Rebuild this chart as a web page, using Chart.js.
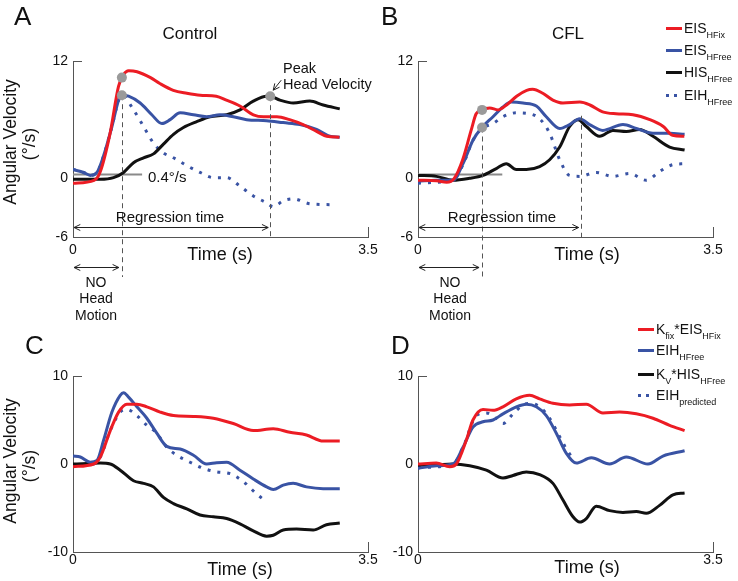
<!DOCTYPE html>
<html><head><meta charset="utf-8">
<script src="https://cdn.jsdelivr.net/npm/chart.js@4.4.1/dist/chart.umd.min.js"></script>
<style>
html,body{margin:0;padding:0;background:#fff}
#wrap{position:relative;width:738px;height:581px;overflow:hidden;font-family:'Liberation Sans',Arial,Helvetica,sans-serif;color:#111}
canvas{position:absolute;left:0;top:0}
.t{position:absolute;white-space:nowrap;line-height:1}
.c{transform:translate(-50%,-50%)}
.rot{transform:translate(-50%,-50%) rotate(-90deg);text-align:center}
.lg{position:absolute;display:flex;align-items:center;height:20px;white-space:nowrap;font-size:14px;line-height:1}
.lg i{display:inline-block;width:16px;height:3px;margin-right:2px;flex:none}
.lg span{display:inline-block;line-height:1}
.lg sub{font-size:9px;vertical-align:-5px;line-height:0}
</style></head>
<body><div id="wrap">
<canvas id="cA" width="738" height="581"></canvas>
<canvas id="cB" width="738" height="581"></canvas>
<canvas id="cC" width="738" height="581"></canvas>
<canvas id="cD" width="738" height="581"></canvas>

<div class="t" style="left:14px;top:3px;font-size:26px">A</div>
<div class="t" style="left:381px;top:3px;font-size:26px">B</div>
<div class="t" style="left:25px;top:332px;font-size:26px">C</div>
<div class="t" style="left:391px;top:332px;font-size:26px">D</div>

<div class="t c" style="left:190px;top:33px;font-size:17px">Control</div>
<div class="t c" style="left:568px;top:33px;font-size:17px">CFL</div>

<div class="t rot" style="left:11px;top:142px;font-size:17.5px">Angular Velocity</div>
<div class="t rot" style="left:30px;top:144px;font-size:17.5px">(°/s)</div>
<div class="t rot" style="left:11px;top:461px;font-size:17.5px">Angular Velocity</div>
<div class="t rot" style="left:30px;top:466px;font-size:17.5px">(°/s)</div>

<div class="t c" style="left:220px;top:254px;font-size:18px">Time (s)</div>
<div class="t c" style="left:587px;top:254px;font-size:18px">Time (s)</div>
<div class="t c" style="left:240px;top:569px;font-size:18px">Time (s)</div>
<div class="t c" style="left:587px;top:567px;font-size:18px">Time (s)</div>

<div class="t" style="left:148px;top:169px;font-size:15px">0.4°/s</div>
<div class="t c" style="left:170px;top:216px;font-size:15px">Regression time</div>
<div class="t c" style="left:502px;top:216px;font-size:15px">Regression time</div>
<div class="t" style="left:283px;top:61px;font-size:14.5px">Peak</div>
<div class="t" style="left:283px;top:77px;font-size:14.5px">Head Velocity</div>

<div class="t c" style="left:96px;top:282px;font-size:14px">NO</div>
<div class="t c" style="left:96px;top:298px;font-size:14px">Head</div>
<div class="t c" style="left:96px;top:315px;font-size:14px">Motion</div>
<div class="t c" style="left:450px;top:282px;font-size:14px">NO</div>
<div class="t c" style="left:450px;top:298px;font-size:14px">Head</div>
<div class="t c" style="left:450px;top:315px;font-size:14px">Motion</div>

<div class="lg" style="left:666px;top:18px"><i style="background:#ec1c24"></i><span>EIS<sub>HFix</sub></span></div>
<div class="lg" style="left:666px;top:40px"><i style="background:#3953a4"></i><span>EIS<sub>HFree</sub></span></div>
<div class="lg" style="left:666px;top:62px"><i style="background:#111"></i><span>HIS<sub>HFree</sub></span></div>
<div class="lg" style="left:666px;top:85px"><i style="background:linear-gradient(90deg,#3953a4 0 3px,transparent 3px 8px,#3953a4 8px 11px,transparent 11px)"></i><span>EIH<sub>HFree</sub></span></div>

<div class="lg" style="left:638px;top:319px"><i style="background:#ec1c24"></i><span>K<sub>fix</sub>*EIS<sub>HFix</sub></span></div>
<div class="lg" style="left:638px;top:340px"><i style="background:#3953a4"></i><span>EIH<sub>HFree</sub></span></div>
<div class="lg" style="left:638px;top:364px"><i style="background:#111"></i><span>K<sub>V</sub>*HIS<sub>HFree</sub></span></div>
<div class="lg" style="left:638px;top:385px"><i style="background:linear-gradient(90deg,#3953a4 0 3px,transparent 3px 8px,#3953a4 8px 11px,transparent 11px)"></i><span>EIH<sub>predicted</sub></span></div>
</div>
<script>
// ---------- Data ----------
const xTickVals = [0, 3.5];
const yTicksAB = [-6, 0, 12];
const yTicksCD = [-10, 0, 10];

// Panel A (Control)
const aRedT = [0,0.25,0.32,0.44,0.54,0.60,0.66,0.76,0.92,1.03,1.19,1.35,1.51,1.70,1.82,1.98,2.14,2.26,2.42,2.57,2.73,2.89,3.01,3.16];
const aRedV = [-0.5,-0.2,0.6,4.6,9.4,10.6,11.0,10.9,10.3,9.7,9.0,8.7,8.5,8.4,8.0,7.4,6.5,6.3,6.3,6.0,5.5,4.8,4.3,4.2];
const aBlueT = [0,0.126,0.205,0.284,0.363,0.462,0.541,0.58,0.659,0.797,0.935,1.054,1.152,1.271,1.429,1.587,1.744,1.902,2.06,2.297,2.494,2.692,2.889,3.047,3.165];
const aBlueV = [0.9,0.6,0.3,0.6,2.3,5.3,8.0,8.5,8.4,7.7,6.5,5.6,6.0,6.7,6.5,6.3,6.5,6.3,6.0,5.9,5.7,5.5,5.0,4.3,4.2];
const aBlackT = [0,0.324,0.481,0.6,0.718,0.837,0.955,1.073,1.192,1.31,1.468,1.626,1.823,1.981,2.139,2.297,2.336,2.455,2.613,2.81,2.968,3.165];
const aBlackV = [-0.1,-0.1,0.07,0.6,1.6,2.1,2.5,3.5,4.5,5.2,5.8,6.3,6.5,7.0,7.9,8.4,8.4,8.0,7.7,7.9,7.5,7.1];
const aDotT = [0,0.126,0.205,0.284,0.363,0.462,0.541,0.58,0.718,0.837,0.955,1.073,1.192,1.35,1.508,1.666,1.823,1.981,2.139,2.297,2.376,2.494,2.613,2.81,3.086];
const aDotV = [0.9,0.6,0.3,0.6,2.3,5.3,8.0,8.5,7.0,5.3,3.6,2.6,2.1,1.3,0.6,0.07,0.07,-0.8,-1.8,-2.5,-2.9,-2.3,-2.1,-2.6,-2.7];
const aMarkT = [0.58, 0.58, 2.34];
const aMarkV = [10.3, 8.5, 8.4];

// Panel B (CFL)
const bRedT = [0,0.22,0.34,0.43,0.53,0.63,0.69,0.76,0.85,0.95,1.05,1.17,1.29,1.36,1.48,1.60,1.72,1.92,2.04,2.19,2.35,2.55,2.75,2.91,3.02,3.16];
const bRedV = [-0.2,-0.25,-0.4,0,1.9,4.9,6.6,7.0,7.2,7.0,7.5,8.4,9.0,9.1,8.7,8.0,7.7,7.8,7.5,6.8,6.6,6.5,6.0,5.3,4.4,4.3];
const bBlueT = [0,0.217,0.415,0.534,0.652,0.759,0.89,1.008,1.107,1.246,1.404,1.522,1.681,1.799,1.918,2.036,2.194,2.432,2.59,2.788,2.985,3.163];
const bBlueV = [-0.3,-0.2,-0.2,1.5,3.9,5.2,6.3,7.3,7.8,7.7,7.4,6.3,5.1,5.5,6.1,5.5,4.9,5.5,5.1,4.6,4.6,4.5];
const bBlackT = [0,0.217,0.415,0.613,0.771,0.929,1.048,1.166,1.285,1.443,1.562,1.681,1.799,1.898,1.997,2.155,2.313,2.471,2.629,2.788,2.985,3.163];
const bBlackV = [0.3,0.2,-0.2,0,0.3,1.0,1.5,0.9,0.9,1.2,1.9,3.2,5.3,6.0,5.3,4.3,4.9,4.8,5.0,4.3,3.2,2.9];
const bDotT = [0,0.217,0.415,0.534,0.652,0.759,0.89,1.008,1.166,1.324,1.443,1.562,1.681,1.799,1.918,2.115,2.313,2.51,2.708,2.866,3.024,3.163];
const bDotV = [-0.5,-0.4,-0.2,1.4,3.9,5.1,5.6,6.3,6.7,6.6,6.1,4.6,1.9,0.3,0.2,0.6,0.2,0.5,-0.2,0.7,1.4,1.5];
const bMarkT = [0.76, 0.76];
const bMarkV = [7.0, 5.2];

// Panel C (Control, model)
const cRedT = [0,0.245,0.324,0.442,0.541,0.639,0.758,0.876,1.034,1.192,1.429,1.665,1.902,2.139,2.376,2.573,2.77,2.968,3.165];
const cRedV = [-0.3,0,0.8,3.8,5.9,6.8,6.8,6.5,5.9,5.5,5.4,5.2,4.6,3.8,4.0,3.6,3.3,2.6,2.6];
const cBlueT = [0,0.087,0.205,0.284,0.363,0.462,0.56,0.6,0.659,0.758,0.876,0.994,1.113,1.271,1.429,1.586,1.705,1.823,1.981,2.139,2.297,2.376,2.494,2.612,2.77,2.968,3.165];
const cBlueV = [0.9,0.8,0.2,0.4,2.7,5.9,7.8,8.1,7.6,6.5,5.2,3.5,2.0,1.7,1.0,0,0.15,0.2,-0.7,-1.7,-2.6,-2.9,-2.4,-2.2,-2.6,-2.8,-2.8];
const cBlackT = [0,0.324,0.442,0.56,0.718,0.837,0.955,1.073,1.192,1.35,1.507,1.665,1.823,1.981,2.139,2.297,2.376,2.494,2.652,2.849,3.007,3.165];
const cBlackV = [0,0.1,0,-0.7,-1.9,-2.2,-2.6,-3.8,-4.5,-5.1,-5.8,-6.0,-6.2,-6.8,-7.6,-8.2,-8.1,-7.5,-7.4,-7.5,-6.9,-6.7];
const cDotT = [0,0.245,0.324,0.442,0.56,0.639,0.758,0.876,0.994,1.113,1.231,1.389,1.547,1.705,1.863,2.021,2.178,2.297];
const cDotV = [-0.2,0,0.8,3.8,5.9,6.2,5.5,4.4,3.5,1.9,1.0,0.2,-0.5,-0.9,-1.1,-2.0,-3.4,-4.3];

// Panel D (CFL, model)
const dRedT = [0,0.217,0.376,0.455,0.573,0.652,0.771,0.89,1.008,1.166,1.325,1.443,1.601,1.799,1.997,2.194,2.392,2.59,2.788,2.985,3.163];
const dRedV = [0,0.1,-0.3,0,2.7,5.0,6.2,6.1,6.5,7.4,7.8,7.4,6.9,6.7,6.8,5.8,5.9,5.7,5.2,4.4,3.8];
const dBlueT = [0,0.217,0.415,0.534,0.652,0.771,0.89,1.008,1.166,1.285,1.404,1.522,1.641,1.76,1.878,2.056,2.273,2.471,2.728,2.906,3.163];
const dBlueV = [-0.5,-0.2,0,1.9,4.2,4.8,5.0,5.7,6.5,6.8,6.5,5.5,3.5,1.2,0.1,0.7,0,0.8,0,0.9,1.5];
const dBlackT = [0,0.217,0.415,0.613,0.811,1.008,1.127,1.285,1.443,1.601,1.72,1.839,1.918,1.997,2.115,2.273,2.432,2.59,2.708,2.866,3.025,3.163];
const dBlackV = [-0.15,-0.1,0,-0.2,-0.7,-1.6,-1.3,-0.9,-1.2,-2.2,-4.1,-6.0,-6.6,-6.2,-4.8,-5.3,-5.5,-5.4,-5.6,-4.7,-3.5,-3.3];
const dDotT = [0,0.415,0.534,0.692,0.811,0.929,1.008,1.127,1.246,1.325,1.443,1.562,1.681,1.76,1.839];
const dDotV = [-0.4,0,1.9,5.5,5.8,5.2,4.6,5.7,6.7,6.9,6.5,5.2,3.1,1.7,0.6];

// ---------- Drawing ----------
const RED = '#ec1c24', BLUE = '#3953a4', BLACK = '#111111';
const FONT = "'Liberation Sans', Arial, sans-serif";

function seg(ctx, x1, y1, x2, y2) { ctx.beginPath(); ctx.moveTo(x1, y1); ctx.lineTo(x2, y2); ctx.stroke(); }
function head(ctx, x, y, ang) {
  const L = 7, W = 0.45;
  ctx.beginPath();
  ctx.moveTo(x - L * Math.cos(ang - W), y - L * Math.sin(ang - W));
  ctx.lineTo(x, y);
  ctx.lineTo(x - L * Math.cos(ang + W), y - L * Math.sin(ang + W));
  ctx.stroke();
}
function dblArrow(ctx, x1, x2, y) {
  seg(ctx, x1, y, x2, y);
  head(ctx, x1, y, Math.PI);
  head(ctx, x2, y, 0);
}

const annotPlugin = {
  id: 'annot',
  beforeDatasetsDraw(chart, args, o) {
    const {ctx, scales: {x, y}} = chart;
    if (o.thr) {
      ctx.save();
      ctx.strokeStyle = '#8a8a8a'; ctx.lineWidth = 2;
      const py = y.getPixelForValue(o.thr.v);
      seg(ctx, x.getPixelForValue(0), py, x.getPixelForValue(o.thr.tEnd), py);
      ctx.restore();
    }
  },
  afterDatasetsDraw(chart, args, o) {
    const {ctx, chartArea: ca, scales: {x, y}} = chart;
    ctx.save();
    ctx.strokeStyle = '#555'; ctx.lineWidth = 1;
    const yTop = Math.round(y.getPixelForValue(y.max)) + 0.5;
    seg(ctx, ca.left, yTop, ca.left + 9, yTop);
    const xR = Math.round(x.getPixelForValue(x.max)) + 0.5;
    seg(ctx, xR, ca.bottom, xR, ca.bottom - 10);
    if (o.dashes) {
      ctx.setLineDash([5, 4]); ctx.strokeStyle = '#555';
      o.dashes.forEach(d => {
        const px = Math.round(x.getPixelForValue(d.t)) + 0.5;
        seg(ctx, px, y.getPixelForValue(d.v), px, ca.bottom + d.below);
      });
      ctx.setLineDash([]);
    }
    ctx.strokeStyle = '#222'; ctx.lineWidth = 1;
    if (o.reg) {
      const py = Math.round(y.getPixelForValue(o.reg.v)) + 0.5;
      dblArrow(ctx, x.getPixelForValue(0) + 1, x.getPixelForValue(o.reg.t) - 2, py);
    }
    if (o.noHead) {
      const py = ca.bottom + 30.5;
      dblArrow(ctx, x.getPixelForValue(0) + 1, x.getPixelForValue(o.noHead.t) - 3, py);
    }
    if (o.peak) {
      const mx = x.getPixelForValue(o.peak.t), my = y.getPixelForValue(o.peak.v);
      const x1 = mx + 11, y1 = my - 16, x2 = mx + 3, y2 = my - 6;
      seg(ctx, x1, y1, x2, y2);
      head(ctx, x2, y2, Math.atan2(y2 - y1, x2 - x1));
    }
    if (o.marks) {
      ctx.fillStyle = '#9a9a9a';
      o.marks.t.forEach((t, i) => {
        ctx.beginPath();
        ctx.arc(x.getPixelForValue(t), y.getPixelForValue(o.marks.v[i]), 5, 0, Math.PI * 2);
        ctx.fill();
      });
    }
    ctx.restore();
  }
};

function ds(t, v, color, dotted) {
  return {
    data: t.map((tt, i) => ({x: tt, y: v[i]})),
    borderColor: color, borderWidth: 3, pointRadius: 0,
    borderDash: dotted ? [3, 7] : [], borderCapStyle: 'butt',
    cubicInterpolationMode: 'monotone', fill: false
  };
}

function makeChart(id, area, yMin, yMax, yTicks, xPad, series, annot) {
  return new Chart(document.getElementById(id), {
    type: 'line',
    data: {datasets: series},
    options: {
      responsive: false, animation: false, devicePixelRatio: 1, events: [],
      layout: {padding: {left: area.l - 30, right: 738 - area.r, top: area.t, bottom: 581 - area.b - 20}},
      plugins: {legend: {display: false}, tooltip: {enabled: false}, annot: annot},
      scales: {
        x: {
          type: 'linear', min: 0, max: 3.5,
          afterFit(s) { s.height = 20; },
          afterBuildTicks(s) { s.ticks = xTickVals.map(v => ({value: v})); },
          grid: {display: false, drawTicks: false},
          border: {display: true, color: '#555', width: 1},
          ticks: {padding: xPad, autoSkip: false, maxRotation: 0, color: '#111', font: {size: 14, family: FONT}}
        },
        y: {
          type: 'linear', min: yMin, max: yMax,
          afterFit(s) { s.width = 30; },
          afterBuildTicks(s) { s.ticks = yTicks.map(v => ({value: v})); },
          grid: {display: false, drawTicks: false},
          border: {display: true, color: '#555', width: 1},
          ticks: {padding: 5, autoSkip: false, color: '#111', font: {size: 14, family: FONT}}
        }
      }
    },
    plugins: [annotPlugin]
  });
}

makeChart('cA', {l: 73, r: 368, t: 61, b: 237}, -6, 12, yTicksAB, 5, [
  ds(aRedT, aRedV, RED), ds(aBlueT, aBlueV, BLUE), ds(aBlackT, aBlackV, BLACK), ds(aDotT, aDotV, BLUE, true)
], {
  thr: {tEnd: 0.82, v: 0.4},
  marks: {t: aMarkT, v: aMarkV},
  dashes: [{t: aMarkT[1], v: aMarkV[1], below: 40}, {t: aMarkT[2], v: aMarkV[2], below: 3}],
  reg: {v: -5, t: aMarkT[2]},
  noHead: {t: aMarkT[0]},
  peak: {t: aMarkT[2], v: aMarkV[2]}
});

makeChart('cB', {l: 418, r: 713, t: 61, b: 237}, -6, 12, yTicksAB, 5, [
  ds(bRedT, bRedV, RED), ds(bBlueT, bBlueV, BLUE), ds(bBlackT, bBlackV, BLACK), ds(bDotT, bDotV, BLUE, true)
], {
  thr: {tEnd: 1.0, v: 0.4},
  marks: {t: bMarkT, v: bMarkV},
  dashes: [{t: bMarkT[1], v: bMarkV[1], below: 40}, {t: 1.93, v: 6.4, below: 3}],
  reg: {v: -5, t: 1.93},
  noHead: {t: bMarkT[0]}
});

makeChart('cC', {l: 73, r: 368, t: 376, b: 552}, -10, 10, yTicksCD, 0, [
  ds(cRedT, cRedV, RED), ds(cBlueT, cBlueV, BLUE), ds(cBlackT, cBlackV, BLACK), ds(cDotT, cDotV, BLUE, true)
], {});

makeChart('cD', {l: 418, r: 713, t: 376, b: 552}, -10, 10, yTicksCD, 0, [
  ds(dRedT, dRedV, RED), ds(dBlueT, dBlueV, BLUE), ds(dBlackT, dBlackV, BLACK), ds(dDotT, dDotV, BLUE, true)
], {});
</script>
</body></html>
